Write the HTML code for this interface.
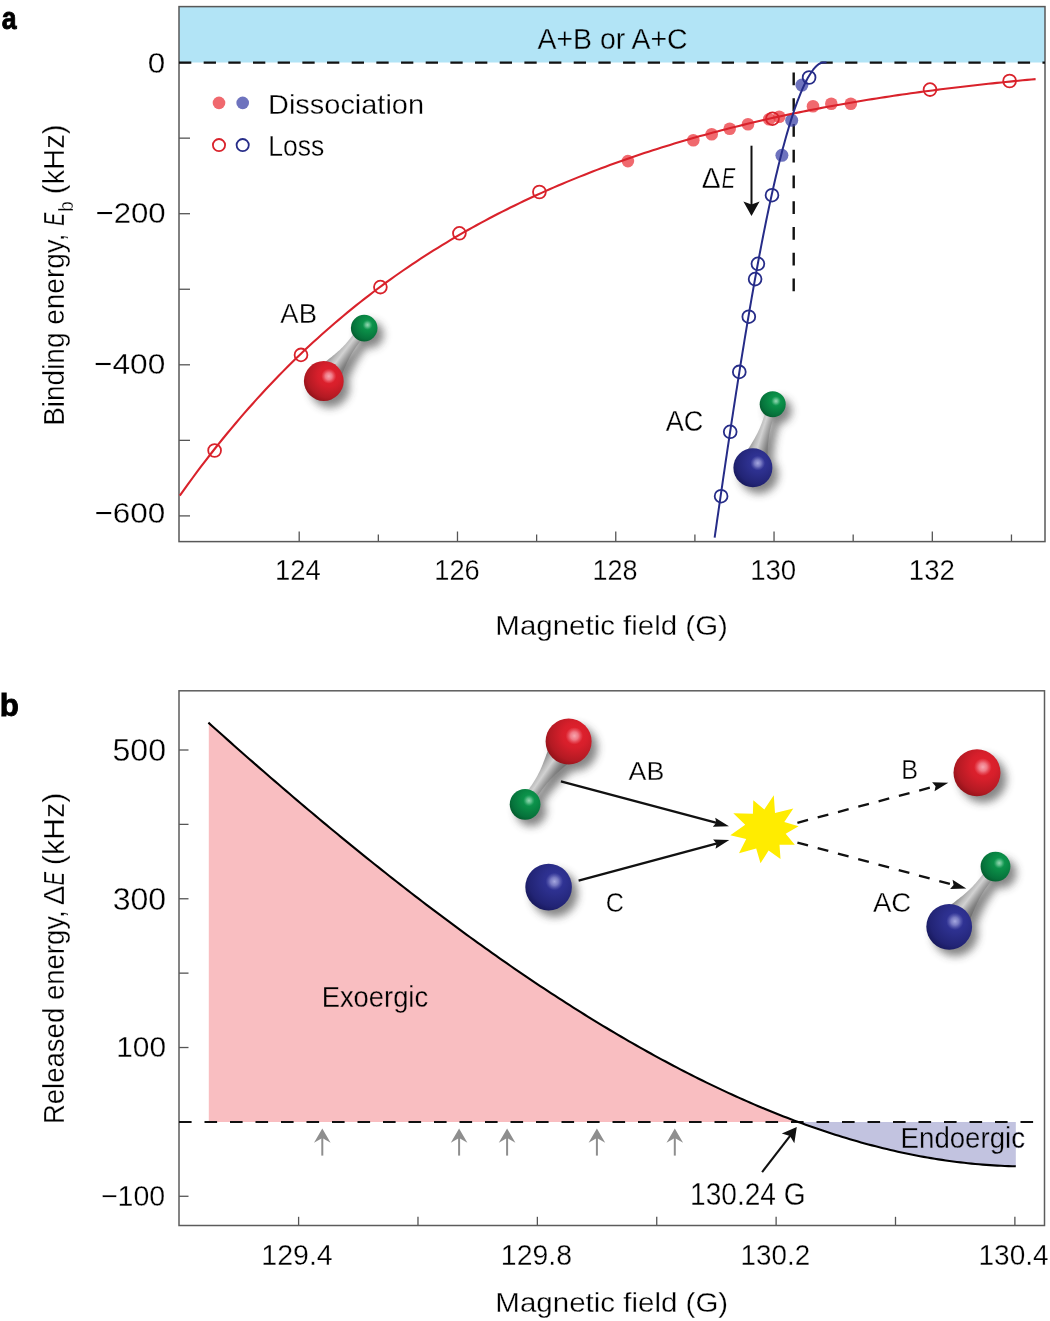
<!DOCTYPE html><html><head><meta charset="utf-8"><title>figure</title>
<style>html,body{margin:0;padding:0;background:#fff;overflow:hidden}svg{display:block;will-change:transform}</style></head><body>
<svg width="1050" height="1321" viewBox="0 0 1050 1321" font-family='"Liberation Sans", sans-serif'>
<defs>
<radialGradient id="gR" cx="0.64" cy="0.36" r="0.8">
<stop offset="0" stop-color="#e6222e"/><stop offset="0.35" stop-color="#d71f2b"/><stop offset="0.7" stop-color="#b31a23"/><stop offset="1" stop-color="#7a0c12"/></radialGradient>
<radialGradient id="gG" cx="0.64" cy="0.36" r="0.8">
<stop offset="0" stop-color="#10a055"/><stop offset="0.35" stop-color="#0a8b46"/><stop offset="0.7" stop-color="#06723b"/><stop offset="1" stop-color="#034a22"/></radialGradient>
<radialGradient id="gB" cx="0.64" cy="0.36" r="0.8">
<stop offset="0" stop-color="#3538a0"/><stop offset="0.35" stop-color="#2c2f8c"/><stop offset="0.7" stop-color="#222475"/><stop offset="1" stop-color="#10114a"/></radialGradient>
<radialGradient id="hR"><stop offset="0" stop-color="#f7a7b0" stop-opacity="1"/><stop offset="0.45" stop-color="#f28a96" stop-opacity="0.85"/><stop offset="1" stop-color="#ee6a78" stop-opacity="0"/></radialGradient>
<radialGradient id="hG"><stop offset="0" stop-color="#9ad8b5" stop-opacity="1"/><stop offset="0.45" stop-color="#6cc495" stop-opacity="0.8"/><stop offset="1" stop-color="#3fae72" stop-opacity="0"/></radialGradient>
<radialGradient id="hB"><stop offset="0" stop-color="#a6a8e0" stop-opacity="1"/><stop offset="0.45" stop-color="#8a8ccc" stop-opacity="0.8"/><stop offset="1" stop-color="#6a6cb8" stop-opacity="0"/></radialGradient>
<filter id="sh" x="-50%" y="-50%" width="200%" height="200%"><feGaussianBlur stdDeviation="4.2"/></filter>
</defs>
<text transform="translate(1.80,28.60) scale(0.8635,1)" font-size="30.88" font-weight="bold" fill="#000" stroke="#000" stroke-width="0.90">a</text>
<rect x="179" y="6.5" width="866" height="56" fill="#b2e4f6"/>
<line x1="179" y1="62.60" x2="190" y2="62.60" stroke="#555" stroke-width="1.3"/>
<line x1="179" y1="138.15" x2="190" y2="138.15" stroke="#555" stroke-width="1.3"/>
<line x1="179" y1="213.70" x2="190" y2="213.70" stroke="#555" stroke-width="1.3"/>
<line x1="179" y1="289.25" x2="190" y2="289.25" stroke="#555" stroke-width="1.3"/>
<line x1="179" y1="364.80" x2="190" y2="364.80" stroke="#555" stroke-width="1.3"/>
<line x1="179" y1="440.35" x2="190" y2="440.35" stroke="#555" stroke-width="1.3"/>
<line x1="179" y1="515.90" x2="190" y2="515.90" stroke="#555" stroke-width="1.3"/>
<line x1="299.20" y1="541.5" x2="299.20" y2="531.5" stroke="#555" stroke-width="1.3"/>
<line x1="378.34" y1="541.5" x2="378.34" y2="534.5" stroke="#555" stroke-width="1.3"/>
<line x1="457.48" y1="541.5" x2="457.48" y2="531.5" stroke="#555" stroke-width="1.3"/>
<line x1="536.62" y1="541.5" x2="536.62" y2="534.5" stroke="#555" stroke-width="1.3"/>
<line x1="615.76" y1="541.5" x2="615.76" y2="531.5" stroke="#555" stroke-width="1.3"/>
<line x1="694.90" y1="541.5" x2="694.90" y2="534.5" stroke="#555" stroke-width="1.3"/>
<line x1="774.04" y1="541.5" x2="774.04" y2="531.5" stroke="#555" stroke-width="1.3"/>
<line x1="853.18" y1="541.5" x2="853.18" y2="534.5" stroke="#555" stroke-width="1.3"/>
<line x1="932.32" y1="541.5" x2="932.32" y2="531.5" stroke="#555" stroke-width="1.3"/>
<line x1="1011.46" y1="541.5" x2="1011.46" y2="534.5" stroke="#555" stroke-width="1.3"/>
<rect x="179" y="6.6" width="866" height="535" fill="none" stroke="#585858" stroke-width="1.5"/>
<line x1="179" y1="62.6" x2="1045" y2="62.6" stroke="#111" stroke-width="2.4" stroke-dasharray="12.3 12.37"/>
<line x1="793.7" y1="72.5" x2="793.7" y2="291.5" stroke="#111" stroke-width="2.4" stroke-dasharray="12.8 12.95"/>
<text transform="translate(147.84,72.90) scale(1.0434,1)" font-size="30.11" fill="#000" stroke="#fff" stroke-width="0.30">0</text>
<text transform="translate(95.44,223.20) scale(1.0420,1)" font-size="29.96" fill="#000" stroke="#fff" stroke-width="0.30">−200</text>
<text transform="translate(94.02,374.40) scale(1.0509,1)" font-size="30.11" fill="#000" stroke="#fff" stroke-width="0.30">−400</text>
<text transform="translate(94.43,523.00) scale(1.0498,1)" font-size="29.96" fill="#000" stroke="#fff" stroke-width="0.30">−600</text>
<text transform="translate(274.94,579.60) scale(0.9170,1)" font-size="29.96" fill="#000" stroke="#fff" stroke-width="0.30">124</text>
<text transform="translate(434.25,579.60) scale(0.9108,1)" font-size="29.96" fill="#000" stroke="#fff" stroke-width="0.30">126</text>
<text transform="translate(592.47,579.60) scale(0.9022,1)" font-size="29.96" fill="#000" stroke="#fff" stroke-width="0.30">128</text>
<text transform="translate(750.13,579.60) scale(0.9229,1)" font-size="29.96" fill="#000" stroke="#fff" stroke-width="0.30">130</text>
<text transform="translate(908.83,579.60) scale(0.9217,1)" font-size="29.96" fill="#000" stroke="#fff" stroke-width="0.30">132</text>
<text transform="translate(495.37,634.60) scale(1.0616,1)" font-size="27.78" fill="#000" stroke="#fff" stroke-width="0.30">Magnetic field (G)</text>
<text transform="translate(63.90,425.81) rotate(-90) scale(0.9521,1)" font-size="29.38" fill="#000" stroke="#fff" stroke-width="0.30">Binding energy,</text>
<text transform="translate(63.90,225.69) rotate(-90) scale(0.6701,1)" font-size="29.38" font-style="italic" fill="#000" stroke="#fff" stroke-width="0.30">E</text>
<text transform="translate(72.70,211.83) rotate(-90) scale(0.9130,1)" font-size="20.69" fill="#000" stroke="#fff" stroke-width="0.30">b</text>
<text transform="translate(63.90,194.23) rotate(-90) scale(0.9958,1)" font-size="29.38" fill="#000" stroke="#fff" stroke-width="0.30">(kHz)</text>
<text transform="translate(537.43,49.10) scale(0.9689,1)" font-size="29.38" fill="#000" stroke="#b2e4f6" stroke-width="0.30">A+B or A+C</text>
<circle cx="219" cy="102.9" r="6.3" fill="#eb373d" fill-opacity="0.75"/><circle cx="242.7" cy="102.9" r="6.3" fill="#3e44a8" fill-opacity="0.75"/>
<circle cx="219" cy="145.1" r="6.1" fill="none" stroke="#d9222b" stroke-width="1.8"/><circle cx="242.7" cy="145.1" r="6.1" fill="none" stroke="#262c88" stroke-width="1.8"/>
<text transform="translate(268.01,113.80) scale(1.0157,1)" font-size="28.51" fill="#000" stroke="#fff" stroke-width="0.30">Dissociation</text>
<text transform="translate(268.21,156.10) scale(0.9087,1)" font-size="29.24" fill="#000" stroke="#fff" stroke-width="0.30">Loss</text>
<circle cx="627.9" cy="161.1" r="6.3" fill="#eb373d" fill-opacity="0.75"/>
<circle cx="693.3" cy="140.3" r="6.3" fill="#eb373d" fill-opacity="0.75"/>
<circle cx="711.7" cy="134.2" r="6.3" fill="#eb373d" fill-opacity="0.75"/>
<circle cx="729.7" cy="128.8" r="6.3" fill="#eb373d" fill-opacity="0.75"/>
<circle cx="748" cy="124.2" r="6.3" fill="#eb373d" fill-opacity="0.75"/>
<circle cx="769.2" cy="119.2" r="6.3" fill="#eb373d" fill-opacity="0.75"/>
<circle cx="779.2" cy="116.7" r="6.3" fill="#eb373d" fill-opacity="0.75"/>
<circle cx="813" cy="106.3" r="6.3" fill="#eb373d" fill-opacity="0.75"/>
<circle cx="831.3" cy="103.7" r="6.3" fill="#eb373d" fill-opacity="0.75"/>
<circle cx="850.8" cy="103.7" r="6.3" fill="#eb373d" fill-opacity="0.75"/>
<circle cx="801.9" cy="85.1" r="6.5" fill="#3e44a8" fill-opacity="0.75"/>
<circle cx="791.7" cy="120.3" r="6.5" fill="#3e44a8" fill-opacity="0.75"/>
<circle cx="781.9" cy="155.3" r="6.5" fill="#3e44a8" fill-opacity="0.75"/>
<polyline points="179.80,495.67 184.10,489.61 188.40,483.64 192.70,477.75 197.00,471.95 201.30,466.22 205.60,460.58 209.90,455.01 214.20,449.52 218.50,444.11 222.81,438.77 227.11,433.51 231.41,428.32 235.71,423.20 240.01,418.15 244.31,413.18 248.61,408.27 252.91,403.43 257.21,398.66 261.51,393.96 265.81,389.32 270.11,384.74 274.41,380.23 278.71,375.78 283.01,371.39 287.31,367.07 291.61,362.80 295.91,358.59 300.21,354.44 304.51,350.35 308.82,346.31 313.12,342.33 317.42,338.41 321.72,334.54 326.02,330.72 330.32,326.95 334.62,323.24 338.92,319.58 343.22,315.96 347.52,312.40 351.82,308.88 356.12,305.42 360.42,302.00 364.72,298.63 369.02,295.30 373.32,292.02 377.62,288.78 381.92,285.59 386.22,282.44 390.52,279.33 394.83,276.26 399.13,273.24 403.43,270.25 407.73,267.31 412.03,264.41 416.33,261.54 420.63,258.72 424.93,255.93 429.23,253.18 433.53,250.46 437.83,247.78 442.13,245.14 446.43,242.53 450.73,239.96 455.03,237.42 459.33,234.91 463.63,232.44 467.93,230.00 472.23,227.60 476.53,225.22 480.84,222.87 485.14,220.56 489.44,218.28 493.74,216.02 498.04,213.80 502.34,211.60 506.64,209.44 510.94,207.30 515.24,205.19 519.54,203.11 523.84,201.05 528.14,199.02 532.44,197.02 536.74,195.04 541.04,193.09 545.34,191.16 549.64,189.26 553.94,187.39 558.24,185.53 562.54,183.70 566.85,181.90 571.15,180.12 575.45,178.36 579.75,176.62 584.05,174.91 588.35,173.21 592.65,171.54 596.95,169.89 601.25,168.27 605.55,166.66 609.85,165.07 614.15,163.51 618.45,161.96 622.75,160.43 627.05,158.93 631.35,157.44 635.65,155.97 639.95,154.52 644.25,153.09 648.55,151.68 652.86,150.29 657.16,148.91 661.46,147.55 665.76,146.21 670.06,144.89 674.36,143.58 678.66,142.29 682.96,141.02 687.26,139.76 691.56,138.52 695.86,137.30 700.16,136.09 704.46,134.90 708.76,133.72 713.06,132.56 717.36,131.42 721.66,130.29 725.96,129.17 730.26,128.07 734.56,126.99 738.87,125.91 743.17,124.86 747.47,123.81 751.77,122.79 756.07,121.77 760.37,120.77 764.67,119.78 768.97,118.81 773.27,117.85 777.57,116.90 781.87,115.96 786.17,115.04 790.47,114.13 794.77,113.23 799.07,112.35 803.37,111.48 807.67,110.62 811.97,109.77 816.27,108.94 820.57,108.11 824.88,107.30 829.18,106.50 833.48,105.71 837.78,104.93 842.08,104.17 846.38,103.41 850.68,102.66 854.98,101.93 859.28,101.21 863.58,100.49 867.88,99.79 872.18,99.10 876.48,98.42 880.78,97.75 885.08,97.09 889.38,96.43 893.68,95.79 897.98,95.16 902.28,94.53 906.58,93.92 910.89,93.32 915.19,92.72 919.49,92.13 923.79,91.55 928.09,90.98 932.39,90.42 936.69,89.87 940.99,89.32 945.29,88.79 949.59,88.26 953.89,87.74 958.19,87.22 962.49,86.72 966.79,86.22 971.09,85.72 975.39,85.24 979.69,84.76 983.99,84.29 988.29,83.82 992.59,83.36 996.90,82.91 1001.20,82.46 1005.50,82.02 1009.80,81.59 1014.10,81.16 1018.40,80.73 1022.70,80.31 1027.00,79.89 1031.30,79.48 1035.60,79.08" fill="none" stroke="#d9222b" stroke-width="2.1"/>
<polyline points="826.50,62.50 823.67,62.50 822.57,62.59 822.11,62.68 821.75,62.77 821.45,62.86 821.18,62.95 820.93,63.05 820.71,63.14 820.50,63.23 820.30,63.32 820.11,63.41 819.94,63.50 819.32,63.84 818.78,64.18 818.29,64.53 817.83,64.87 817.41,65.21 817.00,65.55 816.62,65.89 816.26,66.24 815.91,66.58 815.57,66.92 815.24,67.26 814.93,67.61 814.62,67.95 814.33,68.29 814.04,68.63 813.75,68.97 813.48,69.32 813.21,69.66 812.95,70.00 810.23,73.93 807.90,77.86 805.82,81.79 803.91,85.72 802.14,89.65 800.48,93.58 798.91,97.51 797.41,101.44 795.97,105.36 794.59,109.29 793.26,113.22 791.97,117.15 790.72,121.08 789.51,125.01 788.33,128.94 787.18,132.87 786.06,136.80 784.96,140.73 783.88,144.66 782.83,148.59 781.80,152.52 780.78,156.45 779.79,160.38 778.81,164.31 777.85,168.24 776.90,172.16 775.97,176.09 775.05,180.02 774.14,183.95 773.25,187.88 772.37,191.81 771.50,195.74 770.64,199.67 769.79,203.60 768.95,207.53 768.12,211.46 767.30,215.39 766.49,219.32 765.68,223.25 764.89,227.18 764.10,231.11 763.32,235.04 762.54,238.96 761.78,242.89 761.02,246.82 760.27,250.75 759.52,254.68 758.78,258.61 758.05,262.54 757.32,266.47 756.59,270.40 755.88,274.33 755.16,278.26 754.46,282.19 753.75,286.12 753.06,290.05 752.36,293.98 751.67,297.91 750.99,301.84 750.31,305.76 749.63,309.69 748.96,313.62 748.29,317.55 747.63,321.48 746.97,325.41 746.31,329.34 745.65,333.27 745.00,337.20 744.35,341.13 743.71,345.06 743.07,348.99 742.43,352.92 741.79,356.85 741.16,360.78 740.53,364.71 739.90,368.64 739.28,372.56 738.66,376.49 738.04,380.42 737.42,384.35 736.81,388.28 736.19,392.21 735.58,396.14 734.97,400.07 734.37,404.00 733.76,407.93 733.16,411.86 732.56,415.79 731.96,419.72 731.36,423.65 730.77,427.58 730.17,431.51 729.58,435.44 728.99,439.36 728.40,443.29 727.82,447.22 727.23,451.15 726.65,455.08 726.06,459.01 725.48,462.94 724.90,466.87 724.32,470.80 723.75,474.73 723.17,478.66 722.59,482.59 722.02,486.52 721.45,490.45 720.87,494.38 720.30,498.31 719.73,502.24 719.16,506.16 718.59,510.09 718.03,514.02 717.46,517.95 716.89,521.88 716.33,525.81 715.77,529.74 715.20,533.67 714.64,537.60" fill="none" stroke="#262c88" stroke-width="2.0"/>
<circle cx="214.6" cy="450.5" r="6.4" fill="none" stroke="#d9222b" stroke-width="1.8"/>
<circle cx="301" cy="354.9" r="6.4" fill="none" stroke="#d9222b" stroke-width="1.8"/>
<circle cx="380.4" cy="287.1" r="6.4" fill="none" stroke="#d9222b" stroke-width="1.8"/>
<circle cx="459.4" cy="233.3" r="6.4" fill="none" stroke="#d9222b" stroke-width="1.8"/>
<circle cx="539.4" cy="192" r="6.4" fill="none" stroke="#d9222b" stroke-width="1.8"/>
<circle cx="772.5" cy="118.7" r="6.4" fill="none" stroke="#d9222b" stroke-width="1.8"/>
<circle cx="930" cy="89.6" r="6.4" fill="none" stroke="#d9222b" stroke-width="1.8"/>
<circle cx="1009.6" cy="81" r="6.4" fill="none" stroke="#d9222b" stroke-width="1.8"/>
<circle cx="809.1" cy="77.5" r="6.4" fill="none" stroke="#262c88" stroke-width="1.8"/>
<circle cx="772" cy="195.2" r="6.4" fill="none" stroke="#262c88" stroke-width="1.8"/>
<circle cx="757.9" cy="263.8" r="6.4" fill="none" stroke="#262c88" stroke-width="1.8"/>
<circle cx="755.1" cy="279.1" r="6.4" fill="none" stroke="#262c88" stroke-width="1.8"/>
<circle cx="748.8" cy="316.7" r="6.4" fill="none" stroke="#262c88" stroke-width="1.8"/>
<circle cx="739.3" cy="371.9" r="6.4" fill="none" stroke="#262c88" stroke-width="1.8"/>
<circle cx="730.2" cy="431.8" r="6.4" fill="none" stroke="#262c88" stroke-width="1.8"/>
<circle cx="721.1" cy="496.2" r="6.4" fill="none" stroke="#262c88" stroke-width="1.8"/>
<line x1="751.5" y1="145.7" x2="751.5" y2="206" stroke="#111" stroke-width="2"/>
<path d="M751.5,216 L743.4,201.4 L751.5,204.6 L759.6,201.4 Z" fill="#111"/>
<text transform="translate(701.75,187.70) scale(0.9449,1)" font-size="29.96" fill="#000" stroke="#fff" stroke-width="0.30">Δ</text>
<text transform="translate(721.70,187.70) scale(0.6726,1)" font-size="29.96" font-style="italic" fill="#000" stroke="#fff" stroke-width="0.30">E</text>
<g filter="url(#sh)" opacity="0.62" transform="translate(6,6.5)"><path d="M339.06,381.39 L339.56,380.17 L340.07,378.95 L340.57,377.74 L341.07,376.52 L341.58,375.30 L342.08,374.09 L342.59,372.88 L343.10,371.66 L343.61,370.45 L344.13,369.25 L344.65,368.04 L345.17,366.84 L345.70,365.64 L346.24,364.45 L346.78,363.26 L347.33,362.08 L347.89,360.91 L348.46,359.74 L349.04,358.58 L349.63,357.44 L350.24,356.30 L350.86,355.18 L351.50,354.06 L352.15,352.96 L352.82,351.87 L353.50,350.78 L354.19,349.71 L354.89,348.65 L355.61,347.59 L356.33,346.54 L357.06,345.50 L357.80,344.46 L358.55,343.43 L359.30,342.40 L360.05,341.38 L360.81,340.35 L361.57,339.33 L362.33,338.31 L363.09,337.29 L355.62,331.59 L354.84,332.59 L354.06,333.60 L353.27,334.60 L352.49,335.60 L351.69,336.60 L350.90,337.59 L350.10,338.58 L349.29,339.56 L348.48,340.54 L347.66,341.52 L346.83,342.49 L345.99,343.44 L345.13,344.39 L344.27,345.34 L343.39,346.27 L342.50,347.18 L341.59,348.09 L340.67,348.99 L339.73,349.88 L338.78,350.75 L337.82,351.62 L336.84,352.47 L335.86,353.32 L334.86,354.16 L333.86,355.00 L332.85,355.83 L331.83,356.65 L330.81,357.48 L329.79,358.29 L328.76,359.11 L327.73,359.92 L326.69,360.73 L325.65,361.54 L324.62,362.35 L323.58,363.16 L322.54,363.96 L321.49,364.77 L320.45,365.57 L319.41,366.38 Z" fill="#3a3a3a"/><circle cx="364.2" cy="328.1" r="13.3" fill="#3a3a3a"/><circle cx="323.8" cy="381" r="19.9" fill="#3a3a3a"/></g><linearGradient id="sta1" gradientUnits="userSpaceOnUse" x1="335.26" y1="347.87" x2="352.74" y2="361.23"><stop offset="0" stop-color="#8e8e8e"/><stop offset="0.25" stop-color="#bcbcbc"/><stop offset="0.42" stop-color="#d2d2d2"/><stop offset="0.6" stop-color="#acacac"/><stop offset="0.8" stop-color="#848484"/><stop offset="1" stop-color="#6e6e6e"/></linearGradient><path d="M339.06,381.39 L339.56,380.17 L340.07,378.95 L340.57,377.74 L341.07,376.52 L341.58,375.30 L342.08,374.09 L342.59,372.88 L343.10,371.66 L343.61,370.45 L344.13,369.25 L344.65,368.04 L345.17,366.84 L345.70,365.64 L346.24,364.45 L346.78,363.26 L347.33,362.08 L347.89,360.91 L348.46,359.74 L349.04,358.58 L349.63,357.44 L350.24,356.30 L350.86,355.18 L351.50,354.06 L352.15,352.96 L352.82,351.87 L353.50,350.78 L354.19,349.71 L354.89,348.65 L355.61,347.59 L356.33,346.54 L357.06,345.50 L357.80,344.46 L358.55,343.43 L359.30,342.40 L360.05,341.38 L360.81,340.35 L361.57,339.33 L362.33,338.31 L363.09,337.29 L355.62,331.59 L354.84,332.59 L354.06,333.60 L353.27,334.60 L352.49,335.60 L351.69,336.60 L350.90,337.59 L350.10,338.58 L349.29,339.56 L348.48,340.54 L347.66,341.52 L346.83,342.49 L345.99,343.44 L345.13,344.39 L344.27,345.34 L343.39,346.27 L342.50,347.18 L341.59,348.09 L340.67,348.99 L339.73,349.88 L338.78,350.75 L337.82,351.62 L336.84,352.47 L335.86,353.32 L334.86,354.16 L333.86,355.00 L332.85,355.83 L331.83,356.65 L330.81,357.48 L329.79,358.29 L328.76,359.11 L327.73,359.92 L326.69,360.73 L325.65,361.54 L324.62,362.35 L323.58,363.16 L322.54,363.96 L321.49,364.77 L320.45,365.57 L319.41,366.38 Z" fill="url(#sta1)"/><circle cx="364.2" cy="328.1" r="13.3" fill="url(#gG)"/><circle cx="367.52" cy="324.91" r="5.05" fill="url(#hG)"/><circle cx="323.8" cy="381" r="19.9" fill="url(#gR)"/><circle cx="328.78" cy="376.22" r="7.56" fill="url(#hR)"/>
<text transform="translate(280.33,322.90) scale(0.9847,1)" font-size="27.93" fill="#000" stroke="#fff" stroke-width="0.30">AB</text>
<g filter="url(#sh)" opacity="0.62" transform="translate(6,6.5)"><path d="M767.08,463.02 L767.13,461.70 L767.19,460.37 L767.24,459.04 L767.30,457.72 L767.36,456.39 L767.42,455.07 L767.48,453.74 L767.54,452.42 L767.61,451.10 L767.69,449.78 L767.76,448.46 L767.85,447.14 L767.93,445.82 L768.03,444.51 L768.14,443.20 L768.26,441.89 L768.39,440.59 L768.53,439.29 L768.69,438.00 L768.87,436.71 L769.06,435.42 L769.27,434.14 L769.50,432.87 L769.74,431.60 L770.01,430.34 L770.29,429.09 L770.58,427.83 L770.89,426.59 L771.20,425.34 L771.53,424.10 L771.87,422.86 L772.22,421.62 L772.57,420.39 L772.92,419.16 L773.29,417.93 L773.65,416.70 L774.02,415.47 L774.39,414.24 L774.76,413.01 L766.00,410.28 L765.61,411.51 L765.22,412.73 L764.82,413.95 L764.43,415.17 L764.03,416.39 L763.62,417.60 L763.21,418.82 L762.79,420.03 L762.37,421.25 L761.93,422.45 L761.49,423.66 L761.03,424.86 L760.56,426.06 L760.08,427.25 L759.58,428.44 L759.06,429.62 L758.53,430.80 L757.97,431.97 L757.40,433.14 L756.82,434.30 L756.21,435.45 L755.60,436.61 L754.96,437.75 L754.32,438.90 L753.66,440.04 L753.00,441.17 L752.32,442.31 L751.64,443.44 L750.96,444.57 L750.27,445.70 L749.57,446.82 L748.88,447.95 L748.18,449.08 L747.47,450.20 L746.77,451.33 L746.06,452.45 L745.36,453.57 L744.65,454.70 L743.94,455.82 Z" fill="#3a3a3a"/><circle cx="772.7" cy="404.2" r="13" fill="#3a3a3a"/><circle cx="752.9" cy="467.8" r="19.5" fill="#3a3a3a"/></g><linearGradient id="sta2" gradientUnits="userSpaceOnUse" x1="752.30" y1="432.73" x2="773.30" y2="439.27"><stop offset="0" stop-color="#8e8e8e"/><stop offset="0.25" stop-color="#bcbcbc"/><stop offset="0.42" stop-color="#d2d2d2"/><stop offset="0.6" stop-color="#acacac"/><stop offset="0.8" stop-color="#848484"/><stop offset="1" stop-color="#6e6e6e"/></linearGradient><path d="M767.08,463.02 L767.13,461.70 L767.19,460.37 L767.24,459.04 L767.30,457.72 L767.36,456.39 L767.42,455.07 L767.48,453.74 L767.54,452.42 L767.61,451.10 L767.69,449.78 L767.76,448.46 L767.85,447.14 L767.93,445.82 L768.03,444.51 L768.14,443.20 L768.26,441.89 L768.39,440.59 L768.53,439.29 L768.69,438.00 L768.87,436.71 L769.06,435.42 L769.27,434.14 L769.50,432.87 L769.74,431.60 L770.01,430.34 L770.29,429.09 L770.58,427.83 L770.89,426.59 L771.20,425.34 L771.53,424.10 L771.87,422.86 L772.22,421.62 L772.57,420.39 L772.92,419.16 L773.29,417.93 L773.65,416.70 L774.02,415.47 L774.39,414.24 L774.76,413.01 L766.00,410.28 L765.61,411.51 L765.22,412.73 L764.82,413.95 L764.43,415.17 L764.03,416.39 L763.62,417.60 L763.21,418.82 L762.79,420.03 L762.37,421.25 L761.93,422.45 L761.49,423.66 L761.03,424.86 L760.56,426.06 L760.08,427.25 L759.58,428.44 L759.06,429.62 L758.53,430.80 L757.97,431.97 L757.40,433.14 L756.82,434.30 L756.21,435.45 L755.60,436.61 L754.96,437.75 L754.32,438.90 L753.66,440.04 L753.00,441.17 L752.32,442.31 L751.64,443.44 L750.96,444.57 L750.27,445.70 L749.57,446.82 L748.88,447.95 L748.18,449.08 L747.47,450.20 L746.77,451.33 L746.06,452.45 L745.36,453.57 L744.65,454.70 L743.94,455.82 Z" fill="url(#sta2)"/><circle cx="772.7" cy="404.2" r="13" fill="url(#gG)"/><circle cx="775.95" cy="401.08" r="4.94" fill="url(#hG)"/><circle cx="752.9" cy="467.8" r="19.5" fill="url(#gB)"/><circle cx="757.77" cy="463.12" r="7.41" fill="url(#hB)"/>
<text transform="translate(665.73,431.30) scale(0.9129,1)" font-size="29.67" fill="#000" stroke="#fff" stroke-width="0.30">AC</text>
<text transform="translate(-0.13,716.20) scale(0.9735,1)" font-size="32.14" font-weight="bold" fill="#000" stroke="#000" stroke-width="0.90">b</text>
<polygon points="208.80,1122.00 208.80,722.99 208.40,722.63 212.09,725.94 215.77,729.25 219.46,732.55 223.15,735.84 226.83,739.12 230.52,742.40 234.21,745.67 237.89,748.93 241.58,752.19 245.27,755.43 248.95,758.67 252.64,761.91 256.33,765.13 260.01,768.35 263.70,771.56 267.39,774.76 271.07,777.95 274.76,781.14 278.45,784.32 282.14,787.49 285.82,790.65 289.51,793.81 293.20,796.95 296.88,800.09 300.57,803.22 304.26,806.34 307.94,809.45 311.63,812.56 315.32,815.65 319.00,818.74 322.69,821.82 326.38,824.89 330.06,827.95 333.75,831.01 337.44,834.05 341.12,837.09 344.81,840.11 348.50,843.13 352.18,846.14 355.87,849.14 359.56,852.13 363.24,855.11 366.93,858.08 370.62,861.04 374.30,863.99 377.99,866.94 381.68,869.87 385.36,872.79 389.05,875.71 392.74,878.61 396.42,881.51 400.11,884.39 403.80,887.26 407.48,890.13 411.17,892.98 414.86,895.83 418.55,898.66 422.23,901.49 425.92,904.30 429.61,907.10 433.29,909.90 436.98,912.68 440.67,915.45 444.35,918.21 448.04,920.96 451.73,923.70 455.41,926.43 459.10,929.15 462.79,931.85 466.47,934.55 470.16,937.23 473.85,939.90 477.53,942.57 481.22,945.22 484.91,947.86 488.59,950.48 492.28,953.10 495.97,955.70 499.65,958.29 503.34,960.87 507.03,963.44 510.71,966.00 514.40,968.54 518.09,971.08 521.77,973.60 525.46,976.10 529.15,978.60 532.83,981.08 536.52,983.55 540.21,986.01 543.89,988.46 547.58,990.89 551.27,993.31 554.96,995.72 558.64,998.11 562.33,1000.49 566.02,1002.86 569.70,1005.22 573.39,1007.56 577.08,1009.89 580.76,1012.20 584.45,1014.50 588.14,1016.79 591.82,1019.07 595.51,1021.33 599.20,1023.57 602.88,1025.81 606.57,1028.02 610.26,1030.23 613.94,1032.42 617.63,1034.60 621.32,1036.76 625.00,1038.90 628.69,1041.04 632.38,1043.16 636.06,1045.26 639.75,1047.35 643.44,1049.42 647.12,1051.48 650.81,1053.53 654.50,1055.56 658.18,1057.57 661.87,1059.57 665.56,1061.55 669.24,1063.52 672.93,1065.48 676.62,1067.41 680.31,1069.33 683.99,1071.24 687.68,1073.13 691.37,1075.00 695.05,1076.86 698.74,1078.70 702.43,1080.53 706.11,1082.34 709.80,1084.13 713.49,1085.91 717.17,1087.67 720.86,1089.41 724.55,1091.14 728.23,1092.85 731.92,1094.54 735.61,1096.22 739.29,1097.87 742.98,1099.52 746.67,1101.14 750.35,1102.75 754.04,1104.34 757.73,1105.91 761.41,1107.46 765.10,1109.00 768.79,1110.52 772.47,1112.02 776.16,1113.50 779.85,1114.96 783.53,1116.41 787.22,1117.84 790.91,1119.25 794.59,1120.64 798.26,1122.00" fill="#f9bec1"/>
<polygon points="798.26,1122.00 798.28,1122.01 801.97,1123.36 805.65,1124.70 809.34,1126.01 813.03,1127.31 816.72,1128.59 820.40,1129.84 824.09,1131.08 827.78,1132.30 831.46,1133.50 835.15,1134.68 838.84,1135.84 842.52,1136.98 846.21,1138.10 849.90,1139.20 853.58,1140.29 857.27,1141.35 860.96,1142.39 864.64,1143.41 868.33,1144.40 872.02,1145.38 875.70,1146.34 879.39,1147.28 883.08,1148.19 886.76,1149.09 890.45,1149.96 894.14,1150.82 897.82,1151.65 901.51,1152.46 905.20,1153.24 908.88,1154.01 912.57,1154.75 916.26,1155.48 919.94,1156.18 923.63,1156.86 927.32,1157.51 931.00,1158.15 934.69,1158.76 938.38,1159.35 942.06,1159.91 945.75,1160.46 949.44,1160.98 953.13,1161.48 956.81,1161.95 960.50,1162.40 964.19,1162.83 967.87,1163.24 971.56,1163.62 975.25,1163.97 978.93,1164.31 982.62,1164.62 986.31,1164.90 989.99,1165.17 993.68,1165.40 997.37,1165.62 1001.05,1165.81 1004.74,1165.97 1008.43,1166.11 1012.11,1166.22 1015.80,1166.32 1015.80,1122.00" fill="#c2c3e0"/>
<line x1="179" y1="1196.28" x2="188.5" y2="1196.28" stroke="#555" stroke-width="1.3"/>
<line x1="179" y1="1047.52" x2="188.5" y2="1047.52" stroke="#555" stroke-width="1.3"/>
<line x1="179" y1="973.14" x2="188.5" y2="973.14" stroke="#555" stroke-width="1.3"/>
<line x1="179" y1="898.76" x2="188.5" y2="898.76" stroke="#555" stroke-width="1.3"/>
<line x1="179" y1="824.38" x2="188.5" y2="824.38" stroke="#555" stroke-width="1.3"/>
<line x1="179" y1="750.00" x2="188.5" y2="750.00" stroke="#555" stroke-width="1.3"/>
<line x1="298.60" y1="1225.5" x2="298.60" y2="1216.8" stroke="#555" stroke-width="1.3"/>
<line x1="417.98" y1="1225.5" x2="417.98" y2="1216.8" stroke="#555" stroke-width="1.3"/>
<line x1="537.36" y1="1225.5" x2="537.36" y2="1216.8" stroke="#555" stroke-width="1.3"/>
<line x1="656.74" y1="1225.5" x2="656.74" y2="1216.8" stroke="#555" stroke-width="1.3"/>
<line x1="776.12" y1="1225.5" x2="776.12" y2="1216.8" stroke="#555" stroke-width="1.3"/>
<line x1="895.50" y1="1225.5" x2="895.50" y2="1216.8" stroke="#555" stroke-width="1.3"/>
<line x1="1014.88" y1="1225.5" x2="1014.88" y2="1216.8" stroke="#555" stroke-width="1.3"/>
<rect x="179" y="690.8" width="865.5" height="534.7" fill="none" stroke="#5c5c5c" stroke-width="1.5"/>
<line x1="179" y1="1122" x2="1035" y2="1122" stroke="#111" stroke-width="2.2" stroke-dasharray="12.6 12.9"/>
<polyline points="208.40,722.63 212.09,725.94 215.77,729.25 219.46,732.55 223.15,735.84 226.83,739.12 230.52,742.40 234.21,745.67 237.89,748.93 241.58,752.19 245.27,755.43 248.95,758.67 252.64,761.91 256.33,765.13 260.01,768.35 263.70,771.56 267.39,774.76 271.07,777.95 274.76,781.14 278.45,784.32 282.14,787.49 285.82,790.65 289.51,793.81 293.20,796.95 296.88,800.09 300.57,803.22 304.26,806.34 307.94,809.45 311.63,812.56 315.32,815.65 319.00,818.74 322.69,821.82 326.38,824.89 330.06,827.95 333.75,831.01 337.44,834.05 341.12,837.09 344.81,840.11 348.50,843.13 352.18,846.14 355.87,849.14 359.56,852.13 363.24,855.11 366.93,858.08 370.62,861.04 374.30,863.99 377.99,866.94 381.68,869.87 385.36,872.79 389.05,875.71 392.74,878.61 396.42,881.51 400.11,884.39 403.80,887.26 407.48,890.13 411.17,892.98 414.86,895.83 418.55,898.66 422.23,901.49 425.92,904.30 429.61,907.10 433.29,909.90 436.98,912.68 440.67,915.45 444.35,918.21 448.04,920.96 451.73,923.70 455.41,926.43 459.10,929.15 462.79,931.85 466.47,934.55 470.16,937.23 473.85,939.90 477.53,942.57 481.22,945.22 484.91,947.86 488.59,950.48 492.28,953.10 495.97,955.70 499.65,958.29 503.34,960.87 507.03,963.44 510.71,966.00 514.40,968.54 518.09,971.08 521.77,973.60 525.46,976.10 529.15,978.60 532.83,981.08 536.52,983.55 540.21,986.01 543.89,988.46 547.58,990.89 551.27,993.31 554.96,995.72 558.64,998.11 562.33,1000.49 566.02,1002.86 569.70,1005.22 573.39,1007.56 577.08,1009.89 580.76,1012.20 584.45,1014.50 588.14,1016.79 591.82,1019.07 595.51,1021.33 599.20,1023.57 602.88,1025.81 606.57,1028.02 610.26,1030.23 613.94,1032.42 617.63,1034.60 621.32,1036.76 625.00,1038.90 628.69,1041.04 632.38,1043.16 636.06,1045.26 639.75,1047.35 643.44,1049.42 647.12,1051.48 650.81,1053.53 654.50,1055.56 658.18,1057.57 661.87,1059.57 665.56,1061.55 669.24,1063.52 672.93,1065.48 676.62,1067.41 680.31,1069.33 683.99,1071.24 687.68,1073.13 691.37,1075.00 695.05,1076.86 698.74,1078.70 702.43,1080.53 706.11,1082.34 709.80,1084.13 713.49,1085.91 717.17,1087.67 720.86,1089.41 724.55,1091.14 728.23,1092.85 731.92,1094.54 735.61,1096.22 739.29,1097.87 742.98,1099.52 746.67,1101.14 750.35,1102.75 754.04,1104.34 757.73,1105.91 761.41,1107.46 765.10,1109.00 768.79,1110.52 772.47,1112.02 776.16,1113.50 779.85,1114.96 783.53,1116.41 787.22,1117.84 790.91,1119.25 794.59,1120.64 798.28,1122.01 801.97,1123.36 805.65,1124.70 809.34,1126.01 813.03,1127.31 816.72,1128.59 820.40,1129.84 824.09,1131.08 827.78,1132.30 831.46,1133.50 835.15,1134.68 838.84,1135.84 842.52,1136.98 846.21,1138.10 849.90,1139.20 853.58,1140.29 857.27,1141.35 860.96,1142.39 864.64,1143.41 868.33,1144.40 872.02,1145.38 875.70,1146.34 879.39,1147.28 883.08,1148.19 886.76,1149.09 890.45,1149.96 894.14,1150.82 897.82,1151.65 901.51,1152.46 905.20,1153.24 908.88,1154.01 912.57,1154.75 916.26,1155.48 919.94,1156.18 923.63,1156.86 927.32,1157.51 931.00,1158.15 934.69,1158.76 938.38,1159.35 942.06,1159.91 945.75,1160.46 949.44,1160.98 953.13,1161.48 956.81,1161.95 960.50,1162.40 964.19,1162.83 967.87,1163.24 971.56,1163.62 975.25,1163.97 978.93,1164.31 982.62,1164.62 986.31,1164.90 989.99,1165.17 993.68,1165.40 997.37,1165.62 1001.05,1165.81 1004.74,1165.97 1008.43,1166.11 1012.11,1166.22 1015.80,1166.32" fill="none" stroke="#000" stroke-width="2.1"/>
<text transform="translate(112.41,760.90) scale(1.0475,1)" font-size="30.68" fill="#000" stroke="#fff" stroke-width="0.30">500</text>
<text transform="translate(112.70,909.50) scale(1.0200,1)" font-size="31.40" fill="#000" stroke="#fff" stroke-width="0.30">300</text>
<text transform="translate(116.26,1057.20) scale(0.9817,1)" font-size="30.39" fill="#000" stroke="#fff" stroke-width="0.30">100</text>
<text transform="translate(100.98,1205.70) scale(0.9649,1)" font-size="29.53" fill="#000" stroke="#fff" stroke-width="0.30">−100</text>
<text transform="translate(261.26,1264.80) scale(0.9773,1)" font-size="29.25" fill="#000" stroke="#fff" stroke-width="0.30">129.4</text>
<text transform="translate(500.87,1264.80) scale(0.9720,1)" font-size="29.25" fill="#000" stroke="#fff" stroke-width="0.30">129.8</text>
<text transform="translate(740.62,1264.80) scale(0.9492,1)" font-size="29.25" fill="#000" stroke="#fff" stroke-width="0.30">130.2</text>
<text transform="translate(978.50,1264.80) scale(0.9588,1)" font-size="29.25" fill="#000" stroke="#fff" stroke-width="0.30">130.4</text>
<text transform="translate(495.37,1311.60) scale(1.0565,1)" font-size="27.93" fill="#000" stroke="#fff" stroke-width="0.30">Magnetic field (G)</text>
<text transform="translate(64.30,1124.07) rotate(-90) scale(0.9236,1)" font-size="29.82" fill="#000" stroke="#fff" stroke-width="0.30">Released energy,</text>
<text transform="translate(64.30,905.18) rotate(-90) scale(0.9826,1)" font-size="29.82" fill="#000" stroke="#fff" stroke-width="0.30">Δ</text>
<text transform="translate(64.30,885.20) rotate(-90) scale(0.6707,1)" font-size="29.82" font-style="italic" fill="#000" stroke="#fff" stroke-width="0.30">E</text>
<text transform="translate(64.30,865.20) rotate(-90) scale(1.0183,1)" font-size="29.82" fill="#000" stroke="#fff" stroke-width="0.30">(kHz)</text>
<text transform="translate(321.64,1006.90) scale(0.9183,1)" font-size="29.82" fill="#000" stroke="#f9bec1" stroke-width="0.30">Exoergic</text>
<text transform="translate(900.62,1148.00) scale(0.9645,1)" font-size="28.65" fill="#000" stroke="#c2c3e0" stroke-width="0.30">Endoergic</text>
<text transform="translate(690.09,1205.00) scale(0.9026,1)" font-size="31.13" fill="#000" stroke="#fff" stroke-width="0.30">130.24 G</text>
<line x1="322.3" y1="1155.6" x2="322.3" y2="1138" stroke="#8e8e8e" stroke-width="2"/>
<path d="M322.3,1128.4 L330.6,1142.7 L322.3,1137.9 L314.0,1142.7 Z" fill="#8e8e8e"/>
<line x1="459.1" y1="1155.6" x2="459.1" y2="1138" stroke="#8e8e8e" stroke-width="2"/>
<path d="M459.1,1128.4 L467.40000000000003,1142.7 L459.1,1137.9 L450.8,1142.7 Z" fill="#8e8e8e"/>
<line x1="507.1" y1="1155.6" x2="507.1" y2="1138" stroke="#8e8e8e" stroke-width="2"/>
<path d="M507.1,1128.4 L515.4,1142.7 L507.1,1137.9 L498.8,1142.7 Z" fill="#8e8e8e"/>
<line x1="596.9" y1="1155.6" x2="596.9" y2="1138" stroke="#8e8e8e" stroke-width="2"/>
<path d="M596.9,1128.4 L605.1999999999999,1142.7 L596.9,1137.9 L588.6,1142.7 Z" fill="#8e8e8e"/>
<line x1="674.8" y1="1155.6" x2="674.8" y2="1138" stroke="#8e8e8e" stroke-width="2"/>
<path d="M674.8,1128.4 L683.0999999999999,1142.7 L674.8,1137.9 L666.5,1142.7 Z" fill="#8e8e8e"/>
<g filter="url(#sh)" opacity="0.62" transform="translate(6,6.5)"><path d="M550.97,741.79 L550.46,743.21 L549.95,744.63 L549.44,746.06 L548.93,747.48 L548.43,748.90 L547.91,750.32 L547.40,751.74 L546.89,753.16 L546.37,754.57 L545.86,755.99 L545.33,757.40 L544.81,758.81 L544.28,760.22 L543.74,761.62 L543.19,763.02 L542.64,764.41 L542.08,765.79 L541.50,767.16 L540.90,768.53 L540.29,769.88 L539.67,771.22 L539.02,772.54 L538.35,773.86 L537.67,775.16 L536.96,776.44 L536.24,777.71 L535.50,778.97 L534.74,780.23 L533.97,781.47 L533.19,782.70 L532.40,783.93 L531.61,785.15 L530.80,786.37 L529.99,787.58 L529.18,788.79 L528.36,790.00 L527.54,791.21 L526.72,792.41 L525.90,793.62 L534.81,799.78 L535.65,798.59 L536.49,797.39 L537.33,796.20 L538.17,795.01 L539.01,793.82 L539.86,792.64 L540.72,791.45 L541.58,790.28 L542.45,789.10 L543.33,787.94 L544.22,786.78 L545.13,785.63 L546.04,784.50 L546.98,783.37 L547.93,782.25 L548.91,781.15 L549.90,780.07 L550.91,778.99 L551.94,777.93 L552.99,776.89 L554.06,775.85 L555.14,774.83 L556.24,773.81 L557.34,772.80 L558.46,771.80 L559.58,770.80 L560.71,769.81 L561.84,768.82 L562.98,767.83 L564.12,766.85 L565.26,765.86 L566.41,764.88 L567.56,763.90 L568.70,762.92 L569.85,761.94 L571.00,760.97 L572.16,759.99 L573.31,759.01 L574.46,758.04 Z" fill="#3a3a3a"/><circle cx="525.1" cy="804.3" r="15.4" fill="#3a3a3a"/><circle cx="568.6" cy="741.4" r="23" fill="#3a3a3a"/></g><linearGradient id="stb1" gradientUnits="userSpaceOnUse" x1="537.80" y1="766.59" x2="555.90" y2="779.11"><stop offset="0" stop-color="#8e8e8e"/><stop offset="0.25" stop-color="#bcbcbc"/><stop offset="0.42" stop-color="#d2d2d2"/><stop offset="0.6" stop-color="#acacac"/><stop offset="0.8" stop-color="#848484"/><stop offset="1" stop-color="#6e6e6e"/></linearGradient><path d="M550.97,741.79 L550.46,743.21 L549.95,744.63 L549.44,746.06 L548.93,747.48 L548.43,748.90 L547.91,750.32 L547.40,751.74 L546.89,753.16 L546.37,754.57 L545.86,755.99 L545.33,757.40 L544.81,758.81 L544.28,760.22 L543.74,761.62 L543.19,763.02 L542.64,764.41 L542.08,765.79 L541.50,767.16 L540.90,768.53 L540.29,769.88 L539.67,771.22 L539.02,772.54 L538.35,773.86 L537.67,775.16 L536.96,776.44 L536.24,777.71 L535.50,778.97 L534.74,780.23 L533.97,781.47 L533.19,782.70 L532.40,783.93 L531.61,785.15 L530.80,786.37 L529.99,787.58 L529.18,788.79 L528.36,790.00 L527.54,791.21 L526.72,792.41 L525.90,793.62 L534.81,799.78 L535.65,798.59 L536.49,797.39 L537.33,796.20 L538.17,795.01 L539.01,793.82 L539.86,792.64 L540.72,791.45 L541.58,790.28 L542.45,789.10 L543.33,787.94 L544.22,786.78 L545.13,785.63 L546.04,784.50 L546.98,783.37 L547.93,782.25 L548.91,781.15 L549.90,780.07 L550.91,778.99 L551.94,777.93 L552.99,776.89 L554.06,775.85 L555.14,774.83 L556.24,773.81 L557.34,772.80 L558.46,771.80 L559.58,770.80 L560.71,769.81 L561.84,768.82 L562.98,767.83 L564.12,766.85 L565.26,765.86 L566.41,764.88 L567.56,763.90 L568.70,762.92 L569.85,761.94 L571.00,760.97 L572.16,759.99 L573.31,759.01 L574.46,758.04 Z" fill="url(#stb1)"/><circle cx="525.1" cy="804.3" r="15.4" fill="url(#gG)"/><circle cx="528.95" cy="800.60" r="5.85" fill="url(#hG)"/><circle cx="568.6" cy="741.4" r="23" fill="url(#gR)"/><circle cx="574.35" cy="735.88" r="8.74" fill="url(#hR)"/>
<circle cx="554.6" cy="893.6" r="23.3" fill="#3a3a3a" opacity="0.62" filter="url(#sh)"/><circle cx="548.6" cy="887.1" r="23.3" fill="url(#gB)"/><circle cx="554.43" cy="881.51" r="8.85" fill="url(#hB)"/>
<circle cx="983" cy="779.2" r="23.5" fill="#3a3a3a" opacity="0.62" filter="url(#sh)"/><circle cx="977" cy="772.7" r="23.5" fill="url(#gR)"/><circle cx="982.88" cy="767.06" r="8.93" fill="url(#hR)"/>
<g filter="url(#sh)" opacity="0.62" transform="translate(6,6.5)"><path d="M966.75,927.30 L967.33,925.91 L967.91,924.52 L968.48,923.13 L969.06,921.74 L969.64,920.35 L970.22,918.96 L970.80,917.57 L971.38,916.19 L971.97,914.80 L972.55,913.42 L973.14,912.04 L973.74,910.66 L974.33,909.29 L974.94,907.92 L975.55,906.55 L976.17,905.19 L976.79,903.84 L977.43,902.50 L978.09,901.17 L978.76,899.85 L979.44,898.54 L980.15,897.25 L980.87,895.97 L981.61,894.71 L982.37,893.46 L983.15,892.22 L983.94,891.00 L984.75,889.79 L985.58,888.59 L986.41,887.40 L987.26,886.21 L988.11,885.03 L988.97,883.86 L989.83,882.69 L990.70,881.52 L991.57,880.36 L992.45,879.20 L993.33,878.04 L994.21,876.88 L985.89,870.49 L985.00,871.64 L984.10,872.78 L983.21,873.93 L982.31,875.07 L981.40,876.21 L980.50,877.34 L979.58,878.47 L978.66,879.60 L977.73,880.72 L976.79,881.83 L975.85,882.94 L974.88,884.03 L973.90,885.11 L972.91,886.18 L971.90,887.24 L970.87,888.28 L969.82,889.31 L968.75,890.32 L967.66,891.32 L966.56,892.30 L965.44,893.27 L964.31,894.24 L963.16,895.19 L962.01,896.14 L960.85,897.08 L959.68,898.01 L958.50,898.94 L957.32,899.87 L956.14,900.79 L954.95,901.72 L953.76,902.64 L952.57,903.55 L951.38,904.47 L950.19,905.39 L948.99,906.30 L947.80,907.22 L946.60,908.13 L945.41,909.05 L944.21,909.96 Z" fill="#3a3a3a"/><circle cx="995.5" cy="866.6" r="14.9" fill="#3a3a3a"/><circle cx="949.2" cy="926.8" r="22.9" fill="#3a3a3a"/></g><linearGradient id="stb2" gradientUnits="userSpaceOnUse" x1="963.63" y1="889.99" x2="981.07" y2="903.41"><stop offset="0" stop-color="#8e8e8e"/><stop offset="0.25" stop-color="#bcbcbc"/><stop offset="0.42" stop-color="#d2d2d2"/><stop offset="0.6" stop-color="#acacac"/><stop offset="0.8" stop-color="#848484"/><stop offset="1" stop-color="#6e6e6e"/></linearGradient><path d="M966.75,927.30 L967.33,925.91 L967.91,924.52 L968.48,923.13 L969.06,921.74 L969.64,920.35 L970.22,918.96 L970.80,917.57 L971.38,916.19 L971.97,914.80 L972.55,913.42 L973.14,912.04 L973.74,910.66 L974.33,909.29 L974.94,907.92 L975.55,906.55 L976.17,905.19 L976.79,903.84 L977.43,902.50 L978.09,901.17 L978.76,899.85 L979.44,898.54 L980.15,897.25 L980.87,895.97 L981.61,894.71 L982.37,893.46 L983.15,892.22 L983.94,891.00 L984.75,889.79 L985.58,888.59 L986.41,887.40 L987.26,886.21 L988.11,885.03 L988.97,883.86 L989.83,882.69 L990.70,881.52 L991.57,880.36 L992.45,879.20 L993.33,878.04 L994.21,876.88 L985.89,870.49 L985.00,871.64 L984.10,872.78 L983.21,873.93 L982.31,875.07 L981.40,876.21 L980.50,877.34 L979.58,878.47 L978.66,879.60 L977.73,880.72 L976.79,881.83 L975.85,882.94 L974.88,884.03 L973.90,885.11 L972.91,886.18 L971.90,887.24 L970.87,888.28 L969.82,889.31 L968.75,890.32 L967.66,891.32 L966.56,892.30 L965.44,893.27 L964.31,894.24 L963.16,895.19 L962.01,896.14 L960.85,897.08 L959.68,898.01 L958.50,898.94 L957.32,899.87 L956.14,900.79 L954.95,901.72 L953.76,902.64 L952.57,903.55 L951.38,904.47 L950.19,905.39 L948.99,906.30 L947.80,907.22 L946.60,908.13 L945.41,909.05 L944.21,909.96 Z" fill="url(#stb2)"/><circle cx="995.5" cy="866.6" r="14.9" fill="url(#gG)"/><circle cx="999.23" cy="863.02" r="5.66" fill="url(#hG)"/><circle cx="949.2" cy="926.8" r="22.9" fill="url(#gB)"/><circle cx="954.93" cy="921.30" r="8.70" fill="url(#hB)"/>
<line x1="560.9" y1="781.4" x2="716.75" y2="822.94" stroke="#111" stroke-width="2.3"/><path d="M729,826.2 L712.81,826.75 L716.27,822.81 L715.23,817.67 Z" fill="#111"/>
<line x1="578.6" y1="880.6" x2="717.06" y2="843.39" stroke="#111" stroke-width="2.3"/><path d="M729.3,840.1 L715.55,848.66 L716.58,843.52 L713.11,839.58 Z" fill="#111"/>
<line x1="797.4" y1="822.8" x2="936.05" y2="786.05" stroke="#111" stroke-width="2.3" stroke-dasharray="11 10"/><path d="M948.3,782.8 L934.52,791.31 L935.56,786.18 L932.11,782.23 Z" fill="#111"/>
<line x1="797.4" y1="842.6" x2="954.07" y2="885.08" stroke="#111" stroke-width="2.3" stroke-dasharray="11 10"/><path d="M966.3,888.4 L950.11,888.88 L953.58,884.95 L952.57,879.81 Z" fill="#111"/>
<polygon points="773.80,795.20 775.00,812.90 793.30,808.40 784.30,821.90 798.60,826.20 785.70,833.80 794.80,844.80 779.50,844.80 780.50,858.90 768.60,850.50 760.50,863.30 756.20,848.60 739.00,853.30 746.20,839.00 730.30,835.20 745.20,824.80 733.30,813.30 752.90,813.80 753.30,800.20 764.30,809.50" fill="#ffec00"/>
<text transform="translate(628.53,780.00) scale(1.0408,1)" font-size="25.75" fill="#000" stroke="#fff" stroke-width="0.30">AB</text>
<text transform="translate(605.74,912.00) scale(0.8798,1)" font-size="28.57" fill="#000" stroke="#fff" stroke-width="0.30">C</text>
<text transform="translate(901.32,779.40) scale(0.9352,1)" font-size="26.91" fill="#000" stroke="#fff" stroke-width="0.30">B</text>
<text transform="translate(872.93,911.90) scale(1.0177,1)" font-size="27.05" fill="#000" stroke="#fff" stroke-width="0.30">AC</text>
<line x1="762.1" y1="1172.1" x2="790.29" y2="1135.54" stroke="#111" stroke-width="2.1"/><path d="M796.8,1127.1 L794.32,1143.25 L789.99,1135.93 L781.81,1133.60 Z" fill="#111"/>
</svg></body></html>
